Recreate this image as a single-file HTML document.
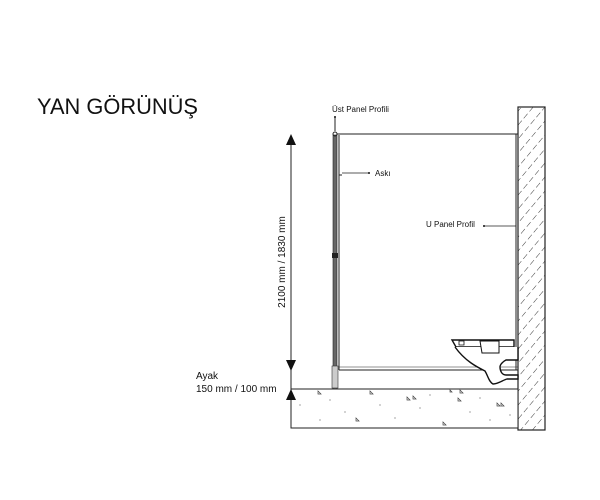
<!DOCTYPE html>
<html><head><meta charset="utf-8"><style>
html,body{margin:0;padding:0;background:#fff}
svg{display:block}
text{font-family:"Liberation Sans",Arial,sans-serif;fill:#111}
</style></head><body>
<svg width="600" height="500" viewBox="0 0 600 500">
<defs>
<pattern id="h" width="9" height="9" patternUnits="userSpaceOnUse" patternTransform="rotate(40)">
<line x1="0" y1="0" x2="0" y2="9" stroke="#222" stroke-width="0.9" stroke-dasharray="6,3"/>
</pattern>
</defs>
<text x="37" y="114" font-size="22" textLength="161" lengthAdjust="spacingAndGlyphs">YAN GÖRÜNÜŞ</text>
<rect x="518" y="107" width="27" height="323" fill="url(#h)" stroke="#222" stroke-width="1.2"/>
<rect x="291" y="389" width="227" height="39" fill="#fff" stroke="#222" stroke-width="1"/>
<g fill="none" stroke="#444" stroke-width="0.7">
<path d="M318 391l3 3h-3zM370 391l3 3h-3zM407 397l3 3h-3zM413 396l3 3h-3zM460 390l3 3h-3zM458 398l3 3h-3zM497 403l3 3h-3zM501 403l3 3h-3zM356 418l3 3h-3zM443 422l3 3h-3zM450 390l2 2h-2z"/>
</g>
<g fill="#666">
<circle cx="300" cy="405" r="0.6"/><circle cx="330" cy="400" r="0.6"/><circle cx="345" cy="412" r="0.6"/><circle cx="380" cy="405" r="0.6"/><circle cx="395" cy="418" r="0.6"/><circle cx="420" cy="408" r="0.6"/><circle cx="470" cy="412" r="0.6"/><circle cx="490" cy="420" r="0.6"/><circle cx="320" cy="420" r="0.6"/><circle cx="430" cy="395" r="0.6"/><circle cx="480" cy="398" r="0.6"/><circle cx="510" cy="415" r="0.6"/>
</g>
<line x1="291" y1="140" x2="291" y2="389" stroke="#222" stroke-width="1"/>
<polygon points="291,134 286,145 296,145" fill="#111"/>
<polygon points="291,371 286,360 296,360" fill="#111"/>
<polygon points="291,389 286,400 296,400" fill="#111"/>
<line x1="291" y1="400" x2="291" y2="428" stroke="#222" stroke-width="1"/>
<text transform="translate(285,262) rotate(-90)" font-size="10" text-anchor="middle">2100 mm / 1830 mm</text>
<text x="196" y="379" font-size="10">Ayak</text>
<text x="196" y="392" font-size="10">150 mm / 100 mm</text>
<rect x="333" y="135" width="4" height="254" fill="#666" stroke="#222" stroke-width="0.6"/>
<line x1="339" y1="135" x2="339" y2="370" stroke="#222" stroke-width="1"/>
<line x1="337" y1="134" x2="518" y2="134" stroke="#222" stroke-width="1"/>
<line x1="339" y1="370" x2="518" y2="370" stroke="#222" stroke-width="1"/>
<line x1="339" y1="367" x2="518" y2="367" stroke="#222" stroke-width="0.5"/>
<line x1="516" y1="134" x2="516" y2="370" stroke="#222" stroke-width="1"/>
<circle cx="335" cy="134" r="2" fill="none" stroke="#222"/>
<line x1="335" y1="117" x2="335" y2="131" stroke="#222"/>
<circle cx="335" cy="117" r="1" fill="#111"/>
<rect x="332" y="253" width="6" height="5" fill="#222"/>
<rect x="332" y="366" width="6" height="22" fill="#ccc" stroke="#333" stroke-width="0.6"/>
<text x="332" y="112" font-size="8">Üst Panel Profili</text>
<path d="M339 170v5h3" fill="none" stroke="#222"/>
<line x1="342" y1="173" x2="369" y2="173" stroke="#222" stroke-width="0.8"/>
<circle cx="369" cy="173" r="1" fill="#111"/>
<text x="375" y="176" font-size="8">Askı</text>
<text x="426" y="227" font-size="8">U Panel Profil</text>
<line x1="484" y1="226" x2="516" y2="226" stroke="#222" stroke-width="0.8"/>
<circle cx="484" cy="226" r="1" fill="#111"/>
<g fill="#fff" stroke="#111" stroke-width="1.4">
<path d="M452 340h62v7h-58z"/>
<path d="M455 347c10 14 22 20 30 24c3 5 4 11 8 13c5 0 10-4 14-5h11v-4h-12c-4 0-6-4-6-8c0-3 4-6 6-7h12v-13"/>
<path d="M480 341h19v12h-17z" stroke-width="1"/>
<path d="M459 341h5v4h-5z" stroke-width="0.8"/>
</g>
</svg>
</body></html>
